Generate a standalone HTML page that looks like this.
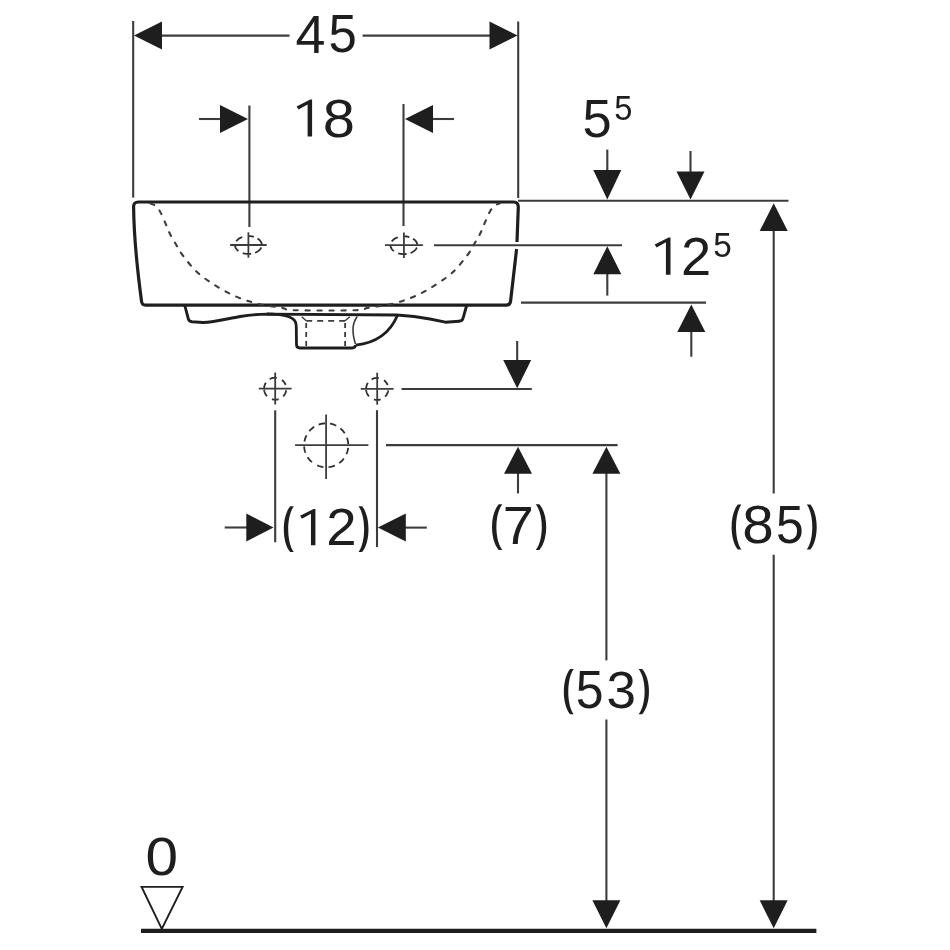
<!DOCTYPE html>
<html><head><meta charset="utf-8"><title>Drawing</title>
<style>html,body{margin:0;padding:0;background:#fff;} svg{display:block;will-change:transform;font-family:"Liberation Sans",sans-serif;}</style></head>
<body><div id="wrap"><svg width="950" height="950" viewBox="0 0 950 950">
<rect width="950" height="950" fill="#fff"/>
<line x1="133.2" y1="21" x2="133.2" y2="197.6" stroke="#3c3c3c" stroke-width="2.1" />
<line x1="518.2" y1="21.5" x2="518.2" y2="198" stroke="#3c3c3c" stroke-width="2.1" />
<line x1="150" y1="35.6" x2="289.5" y2="35.6" stroke="#3c3c3c" stroke-width="2.1" />
<line x1="362.6" y1="35.6" x2="500" y2="35.6" stroke="#3c3c3c" stroke-width="2.1" />
<text transform="matrix(0.53800 0 0 0.53333 295.46 52.60)" font-size="100" fill="#1e1e1e">4</text>
<text transform="matrix(0.50947 0 0 0.53143 328.46 52.47)" font-size="100" fill="#1e1e1e">5</text>
<line x1="249.4" y1="105.5" x2="249.4" y2="227" stroke="#3c3c3c" stroke-width="2.1" />
<line x1="403.5" y1="104" x2="403.5" y2="226" stroke="#3c3c3c" stroke-width="2.1" />
<line x1="199" y1="119" x2="222" y2="119" stroke="#3c3c3c" stroke-width="2.1" />
<line x1="430" y1="119" x2="454" y2="119" stroke="#3c3c3c" stroke-width="2.1" />
<polygon points="312.10,99.60 312.10,136.40 307.61,136.40 307.61,104.38 298.46,109.54 296.60,106.59 310.24,99.60" fill="#1e1e1e"/>
<text transform="matrix(0.57872 0 0 0.54085 322.80 136.66)" font-size="100" fill="#1e1e1e">8</text>
<path d="M133.6,207 Q133.4,202 138.4,202 L513.5,202 Q518.3,202 518.3,207 L517,242" fill="none" stroke="#1e1e1e" stroke-width="3.2" stroke-linejoin="round"/>
<path d="M516.6,249 L510.6,301 Q510.2,305.2 506,305.2 L145.6,305.2 Q141.8,305.2 141.5,301 Q134,245 133.6,207" fill="none" stroke="#1e1e1e" stroke-width="3.2" stroke-linejoin="round"/>
<line x1="518" y1="200.8" x2="788.5" y2="200.8" stroke="#3c3c3c" stroke-width="2.1" />
<path d="M150.30,203.40 C151.00,203.70 152.97,204.02 154.50,205.20 C156.03,206.38 157.67,207.47 159.50,210.50 C161.33,213.53 163.72,219.42 165.50,223.40 C167.28,227.38 168.47,230.93 170.20,234.40 C171.93,237.87 173.85,240.77 175.90,244.20 C177.95,247.63 178.98,250.37 182.50,255.00 C186.02,259.63 191.48,266.90 197.00,272.00 C202.52,277.10 209.13,281.52 215.60,285.60 C222.07,289.68 228.80,293.48 235.80,296.50 C242.80,299.52 249.87,301.80 257.60,303.70 C265.33,305.60 276.12,306.82 282.20,307.90 C288.28,308.98 281.82,309.82 294.10,310.20 C306.38,310.58 343.62,310.58 355.90,310.20 C368.18,309.82 361.72,308.98 367.80,307.90 C373.88,306.82 384.67,305.60 392.40,303.70 C400.13,301.80 407.20,299.52 414.20,296.50 C421.20,293.48 427.93,289.68 434.40,285.60 C440.87,281.52 447.48,277.10 453.00,272.00 C458.52,266.90 463.98,259.63 467.50,255.00 C471.02,250.37 472.05,247.63 474.10,244.20 C476.15,240.77 478.07,237.87 479.80,234.40 C481.53,230.93 482.72,227.38 484.50,223.40 C486.28,219.42 488.67,213.53 490.50,210.50 C492.33,207.47 493.97,206.38 495.50,205.20 C497.03,204.02 499.00,203.70 499.70,203.40" fill="none" stroke="#3c3c3c" stroke-width="2.1" stroke-dasharray="4.2 7.7" stroke-linecap="round"/>
<path d="M248.40,236.10 L249.33,236.12 L250.26,236.19 L251.19,236.29 L252.09,236.44 L252.98,236.64 L253.85,236.87 M257.54,238.49 L258.20,238.93 L258.81,239.40 L259.38,239.90 L259.89,240.42 L260.34,240.96 L260.73,241.52 L261.07,242.10 L261.34,242.70 L261.55,243.30 L261.70,243.92 L261.78,244.53 M261.34,247.30 L261.06,247.91 L260.72,248.50 L260.31,249.08 L259.84,249.63 L259.32,250.16 L258.73,250.67 L258.10,251.14 L257.41,251.59 L256.68,252.00 L255.91,252.37 L255.10,252.71 M251.19,253.71 L250.24,253.82 L249.28,253.88 L248.32,253.90 L247.36,253.87 L246.41,253.80 L245.46,253.68 L244.53,253.52 L243.62,253.32 L242.74,253.07 M238.44,250.96 L237.81,250.45 L237.24,249.93 L236.73,249.37 L236.28,248.79 L235.89,248.19 L235.57,247.57 L235.32,246.94 L235.14,246.30 L235.04,245.65 L235.00,245.00 M236.26,241.24 L236.71,240.66 L237.22,240.09 L237.79,239.56 L238.42,239.06 L239.11,238.59 L239.85,238.15 L240.63,237.75 L241.45,237.39 L242.32,237.07 " fill="none" stroke="#2e2e2e" stroke-width="1.8" stroke-linecap="butt"/>
<line x1="230.1" y1="245" x2="266.7" y2="245" stroke="#3c3c3c" stroke-width="1.8" />
<line x1="248.4" y1="232.3" x2="248.4" y2="257.7" stroke="#3c3c3c" stroke-width="1.8" />
<path d="M403.90,236.30 L404.83,236.32 L405.76,236.39 L406.69,236.49 L407.59,236.64 L408.48,236.84 L409.35,237.07 M413.04,238.69 L413.70,239.13 L414.31,239.60 L414.88,240.10 L415.39,240.62 L415.84,241.16 L416.23,241.72 L416.57,242.30 L416.84,242.90 L417.05,243.50 L417.20,244.12 L417.28,244.73 M416.84,247.50 L416.56,248.11 L416.22,248.70 L415.81,249.28 L415.34,249.83 L414.82,250.36 L414.23,250.87 L413.60,251.34 L412.91,251.79 L412.18,252.20 L411.41,252.57 L410.60,252.91 M406.69,253.91 L405.74,254.02 L404.78,254.08 L403.82,254.10 L402.86,254.07 L401.91,254.00 L400.96,253.88 L400.03,253.72 L399.12,253.52 L398.24,253.27 M393.94,251.16 L393.31,250.65 L392.74,250.13 L392.23,249.57 L391.78,248.99 L391.39,248.39 L391.07,247.77 L390.82,247.14 L390.64,246.50 L390.54,245.85 L390.50,245.20 M391.76,241.44 L392.21,240.86 L392.72,240.29 L393.29,239.76 L393.92,239.26 L394.61,238.79 L395.35,238.35 L396.13,237.95 L396.95,237.59 L397.82,237.27 " fill="none" stroke="#2e2e2e" stroke-width="1.8" stroke-linecap="butt"/>
<line x1="384.9" y1="245.2" x2="422.9" y2="245.2" stroke="#3c3c3c" stroke-width="1.8" />
<line x1="403.9" y1="232.5" x2="403.9" y2="257.9" stroke="#3c3c3c" stroke-width="1.8" />
<line x1="434" y1="245.2" x2="622" y2="245.2" stroke="#3c3c3c" stroke-width="2.1" />
<path d="M184.7,305 L188.3,318.8 Q189,321.3 192,321.8 L203,322.5 C215,322.3 228,318.5 240,316.5 C250,315 258,314.3 267,314.1 L397,315 C410,315.7 420,317 430,319 L445.3,322.2 L459,321.3 Q462.5,321 463,318.3 L466.8,305" fill="none" stroke="#1e1e1e" stroke-width="2.9" stroke-linejoin="round"/>
<path d="M267,313.8 C282,314 293,316 295.5,322 Q296.3,324 296.3,328 L296.5,344.5 Q296.5,348 300,348 L352,348 Q355.4,348 355.4,345" fill="none" stroke="#1e1e1e" stroke-width="2.8"/>
<path d="M397.4,315.5 C390,333 375,343 355.8,345.1" fill="none" stroke="#1e1e1e" stroke-width="2.8"/>
<path d="M357.3,316.4 C352,323 352,333 355.5,344" fill="none" stroke="#3c3c3c" stroke-width="1.6"/>
<path d="M306.2,323 L306.2,348" fill="none" stroke="#3c3c3c" stroke-width="1.8" stroke-dasharray="5 4"/>
<path d="M345.1,323 L345.1,348" fill="none" stroke="#3c3c3c" stroke-width="1.8" stroke-dasharray="5 4"/>
<path d="M306.2,320.8 L345.1,320.8" fill="none" stroke="#3c3c3c" stroke-width="1.8" stroke-dasharray="6 5"/>
<line x1="301.8" y1="316.8" x2="306.2" y2="320.8" stroke="#3c3c3c" stroke-width="1.4" />
<line x1="349.9" y1="316.7" x2="345.1" y2="320.8" stroke="#3c3c3c" stroke-width="1.4" />
<line x1="607.3" y1="149.6" x2="607.3" y2="172" stroke="#3c3c3c" stroke-width="2.1" />
<line x1="690.5" y1="151" x2="690.5" y2="172" stroke="#3c3c3c" stroke-width="2.1" />
<text transform="matrix(0.52421 0 0 0.53571 582.60 137.46)" font-size="100" fill="#1e1e1e">5</text>
<text transform="matrix(0.32632 0 0 0.34857 614.19 119.55)" font-size="100" fill="#1e1e1e">5</text>
<line x1="607.3" y1="270" x2="607.3" y2="295.6" stroke="#3c3c3c" stroke-width="2.1" />
<line x1="521" y1="302.6" x2="706" y2="302.6" stroke="#3c3c3c" stroke-width="2.1" />
<line x1="691.3" y1="328" x2="691.3" y2="356.7" stroke="#3c3c3c" stroke-width="2.1" />
<polygon points="670.50,237.40 670.50,274.70 665.92,274.70 665.92,242.25 656.60,247.47 654.70,244.49 668.60,237.40" fill="#1e1e1e"/>
<text transform="matrix(0.54286 0 0 0.53286 680.99 274.70)" font-size="100" fill="#1e1e1e">2</text>
<text transform="matrix(0.33263 0 0 0.35429 713.37 257.05)" font-size="100" fill="#1e1e1e">5</text>
<line x1="773.7" y1="228" x2="773.7" y2="493.5" stroke="#3c3c3c" stroke-width="2.1" />
<line x1="773.7" y1="554.8" x2="773.7" y2="905" stroke="#3c3c3c" stroke-width="2.1" />
<path d="M737.80,504.50 L741.40,504.50 C734.20,514.42 734.20,539.68 741.40,549.60 L737.80,549.60 C729.53,539.68 729.53,514.42 737.80,504.50 Z" fill="#1e1e1e"/>
<text transform="matrix(0.56596 0 0 0.52958 742.35 543.27)" font-size="100" fill="#1e1e1e">8</text>
<text transform="matrix(0.49895 0 0 0.53714 775.90 543.26)" font-size="100" fill="#1e1e1e">5</text>
<path d="M810.40,504.50 L806.80,504.50 C814.13,514.42 814.13,539.68 806.80,549.60 L810.40,549.60 C818.80,539.68 818.80,514.42 810.40,504.50 Z" fill="#1e1e1e"/>
<line x1="606.4" y1="470" x2="606.4" y2="660.4" stroke="#3c3c3c" stroke-width="2.1" />
<line x1="606.4" y1="719.5" x2="606.4" y2="905" stroke="#3c3c3c" stroke-width="2.1" />
<path d="M570.10,669.10 L573.70,669.10 C566.50,679.04 566.50,704.36 573.70,714.30 L570.10,714.30 C561.83,704.36 561.83,679.04 570.10,669.10 Z" fill="#1e1e1e"/>
<text transform="matrix(0.49895 0 0 0.53000 575.80 707.97)" font-size="100" fill="#1e1e1e">5</text>
<text transform="matrix(0.52979 0 0 0.52254 606.38 707.98)" font-size="100" fill="#1e1e1e">3</text>
<path d="M642.20,669.10 L638.60,669.10 C646.60,679.04 646.60,704.36 638.60,714.30 L642.20,714.30 C651.27,704.36 651.27,679.04 642.20,669.10 Z" fill="#1e1e1e"/>
<line x1="517.2" y1="341" x2="517.2" y2="362" stroke="#3c3c3c" stroke-width="2.1" />
<line x1="401.5" y1="389" x2="531.8" y2="389" stroke="#3c3c3c" stroke-width="2.1" />
<line x1="518" y1="470" x2="518" y2="493.4" stroke="#3c3c3c" stroke-width="2.1" />
<line x1="386" y1="445.1" x2="617.6" y2="445.1" stroke="#3c3c3c" stroke-width="2.1" />
<path d="M498.70,504.20 L502.30,504.20 C494.43,514.25 494.43,539.85 502.30,549.90 L498.70,549.90 C489.77,539.85 489.77,514.25 498.70,504.20 Z" fill="#1e1e1e"/>
<text transform="matrix(0.55824 0 0 0.54493 502.81 543.60)" font-size="100" fill="#1e1e1e">7</text>
<path d="M539.40,504.20 L535.80,504.20 C543.80,514.25 543.80,539.85 535.80,549.90 L539.40,549.90 C548.47,539.85 548.47,514.25 539.40,504.20 Z" fill="#1e1e1e"/>
<path d="M269.65,379.17 L270.37,378.79 L271.12,378.47 L271.89,378.20 L272.68,377.99 L273.48,377.83 L274.30,377.74 L275.11,377.70 L275.93,377.72 L276.74,377.81 M282.03,380.03 L282.63,380.53 L283.18,381.06 L283.70,381.63 L284.18,382.23 L284.61,382.87 L285.00,383.54 L285.34,384.23 L285.63,384.94 M286.19,390.23 L286.06,390.99 L285.87,391.73 L285.63,392.46 L285.34,393.17 L285.00,393.86 L284.61,394.53 L284.18,395.17 L283.70,395.77 L283.18,396.34 M278.63,399.16 L277.81,399.39 L276.98,399.56 L276.14,399.66 L275.30,399.70 L274.45,399.67 L273.61,399.59 L272.77,399.43 L271.95,399.22 M267.08,396.20 L266.55,395.59 L266.06,394.94 L265.62,394.26 L265.23,393.54 L264.90,392.80 L264.62,392.04 L264.40,391.26 L264.24,390.46 L264.14,389.66 M264.11,388.32 L264.17,387.47 L264.30,386.63 L264.49,385.80 L264.75,384.99 L265.07,384.20 L265.45,383.44 L265.89,382.71 " fill="none" stroke="#2e2e2e" stroke-width="1.8" stroke-linecap="butt"/>
<line x1="258.8" y1="388.7" x2="291.59999999999997" y2="388.7" stroke="#3c3c3c" stroke-width="1.8" />
<line x1="275.2" y1="372.5" x2="275.2" y2="404.5" stroke="#3c3c3c" stroke-width="1.8" />
<path d="M371.65,379.37 L372.37,378.99 L373.12,378.67 L373.89,378.40 L374.68,378.19 L375.48,378.03 L376.30,377.94 L377.11,377.90 L377.93,377.92 L378.74,378.01 M384.03,380.23 L384.63,380.73 L385.18,381.26 L385.70,381.83 L386.18,382.43 L386.61,383.07 L387.00,383.74 L387.34,384.43 L387.63,385.14 M388.19,390.43 L388.06,391.19 L387.87,391.93 L387.63,392.66 L387.34,393.37 L387.00,394.06 L386.61,394.73 L386.18,395.37 L385.70,395.97 L385.18,396.54 M380.63,399.36 L379.81,399.59 L378.98,399.76 L378.14,399.86 L377.30,399.90 L376.45,399.87 L375.61,399.79 L374.77,399.63 L373.95,399.42 M369.08,396.40 L368.55,395.79 L368.06,395.14 L367.62,394.46 L367.23,393.74 L366.90,393.00 L366.62,392.24 L366.40,391.46 L366.24,390.66 L366.14,389.86 M366.11,388.52 L366.17,387.67 L366.30,386.83 L366.49,386.00 L366.75,385.19 L367.07,384.40 L367.45,383.64 L367.89,382.91 " fill="none" stroke="#2e2e2e" stroke-width="1.8" stroke-linecap="butt"/>
<line x1="360.8" y1="388.9" x2="393.59999999999997" y2="388.9" stroke="#3c3c3c" stroke-width="1.8" />
<line x1="377.2" y1="372.7" x2="377.2" y2="404.7" stroke="#3c3c3c" stroke-width="1.8" />
<line x1="275.2" y1="410.3" x2="275.2" y2="542.3" stroke="#3c3c3c" stroke-width="2.1" />
<line x1="377" y1="410.2" x2="377" y2="547.1" stroke="#3c3c3c" stroke-width="2.1" />
<path d="M318.64,424.63 L320.20,424.13 L321.79,423.74 L323.41,423.48 L325.04,423.33 M330.04,423.63 L331.64,423.98 L333.21,424.44 L334.75,425.01 L336.23,425.70 M340.41,428.45 L341.62,429.54 L342.75,430.72 L343.79,431.98 L344.73,433.32 M346.97,437.78 L347.47,439.33 L347.86,440.91 L348.12,442.52 L348.27,444.15 M348.14,447.98 L347.88,449.59 L347.50,451.18 L347.00,452.73 L346.39,454.25 M343.85,458.54 L342.82,459.81 L341.69,460.99 L340.48,462.09 L339.19,463.10 M334.84,465.55 L333.30,466.13 L331.73,466.60 L330.13,466.95 L328.51,467.18 M323.51,467.14 L321.89,466.88 L320.29,466.50 L318.73,466.01 L317.21,465.40 M311.99,462.15 L310.78,461.06 L309.65,459.88 L308.61,458.62 L307.67,457.28 M305.43,452.82 L304.93,451.27 L304.54,449.69 L304.28,448.08 L304.13,446.45 M304.44,441.48 L304.78,439.88 L305.24,438.32 L305.82,436.79 L306.51,435.31 M309.27,431.16 L310.37,429.95 L311.56,428.82 L312.82,427.79 L314.16,426.85 " fill="none" stroke="#2e2e2e" stroke-width="1.8" stroke-linecap="butt"/>
<line x1="295.1" y1="445.2" x2="368.4" y2="445.2" stroke="#3c3c3c" stroke-width="1.8" />
<line x1="326.1" y1="414.4" x2="326.1" y2="479" stroke="#3c3c3c" stroke-width="1.8" />
<line x1="224.7" y1="527.5" x2="250" y2="527.5" stroke="#3c3c3c" stroke-width="2.1" />
<line x1="400" y1="527.6" x2="426.8" y2="527.6" stroke="#3c3c3c" stroke-width="2.1" />
<path d="M290.20,506.30 L293.80,506.30 C286.33,516.38 286.33,542.02 293.80,552.10 L290.20,552.10 C281.67,542.02 281.67,516.38 290.20,506.30 Z" fill="#1e1e1e"/>
<polygon points="315.40,508.90 315.40,545.30 310.96,545.30 310.96,513.63 301.94,518.73 300.10,515.82 313.56,508.90" fill="#1e1e1e"/>
<text transform="matrix(0.54505 0 0 0.52000 326.27 545.30)" font-size="100" fill="#1e1e1e">2</text>
<path d="M362.10,506.30 L358.50,506.30 C365.97,516.38 365.97,542.02 358.50,552.10 L362.10,552.10 C370.63,542.02 370.63,516.38 362.10,506.30 Z" fill="#1e1e1e"/>
<line x1="141" y1="930.9" x2="816.4" y2="930.9" stroke="#1e1e1e" stroke-width="4.4" />
<polygon points="141.6,886.9 182.6,886.9 161.8,928.9" fill="none" stroke="#1e1e1e" stroke-width="1.9" stroke-linejoin="miter"/>
<text transform="matrix(0.58526 0 0 0.52958 145.56 874.57)" font-size="100" fill="#1e1e1e">0</text>
<polygon points="134,35.6 162,21.6 162,49.6" fill="#1e1e1e"/>
<polygon points="517.5,35.6 489.5,21.6 489.5,49.6" fill="#1e1e1e"/>
<polygon points="248,119 220,105 220,133" fill="#1e1e1e"/>
<polygon points="405,119 433,105 433,133" fill="#1e1e1e"/>
<polygon points="607.3,199.5 593.3,170.0 621.3,170.0" fill="#1e1e1e"/>
<polygon points="690.5,199.5 676.5,171.5 704.5,171.5" fill="#1e1e1e"/>
<polygon points="607.3,246.2 593.3,274.2 621.3,274.2" fill="#1e1e1e"/>
<polygon points="691.3,304.4 677.3,331.9 705.3,331.9" fill="#1e1e1e"/>
<polygon points="773.7,203.2 759.7,231.0 787.7,231.0" fill="#1e1e1e"/>
<polygon points="773.7,928.3 759.7,900.3 787.7,900.3" fill="#1e1e1e"/>
<polygon points="606.4,446.8 592.4,473.7 620.4,473.7" fill="#1e1e1e"/>
<polygon points="606.4,928.3 592.4,900.3 620.4,900.3" fill="#1e1e1e"/>
<polygon points="517.2,388.2 503.20000000000005,360.0 531.2,360.0" fill="#1e1e1e"/>
<polygon points="518,446.8 504,473.7 532,473.7" fill="#1e1e1e"/>
<polygon points="273.5,527.5 246.3,513.5 246.3,541.5" fill="#1e1e1e"/>
<polygon points="377.9,527.6 405.79999999999995,513.6 405.79999999999995,541.6" fill="#1e1e1e"/>
</svg></div></body></html>
